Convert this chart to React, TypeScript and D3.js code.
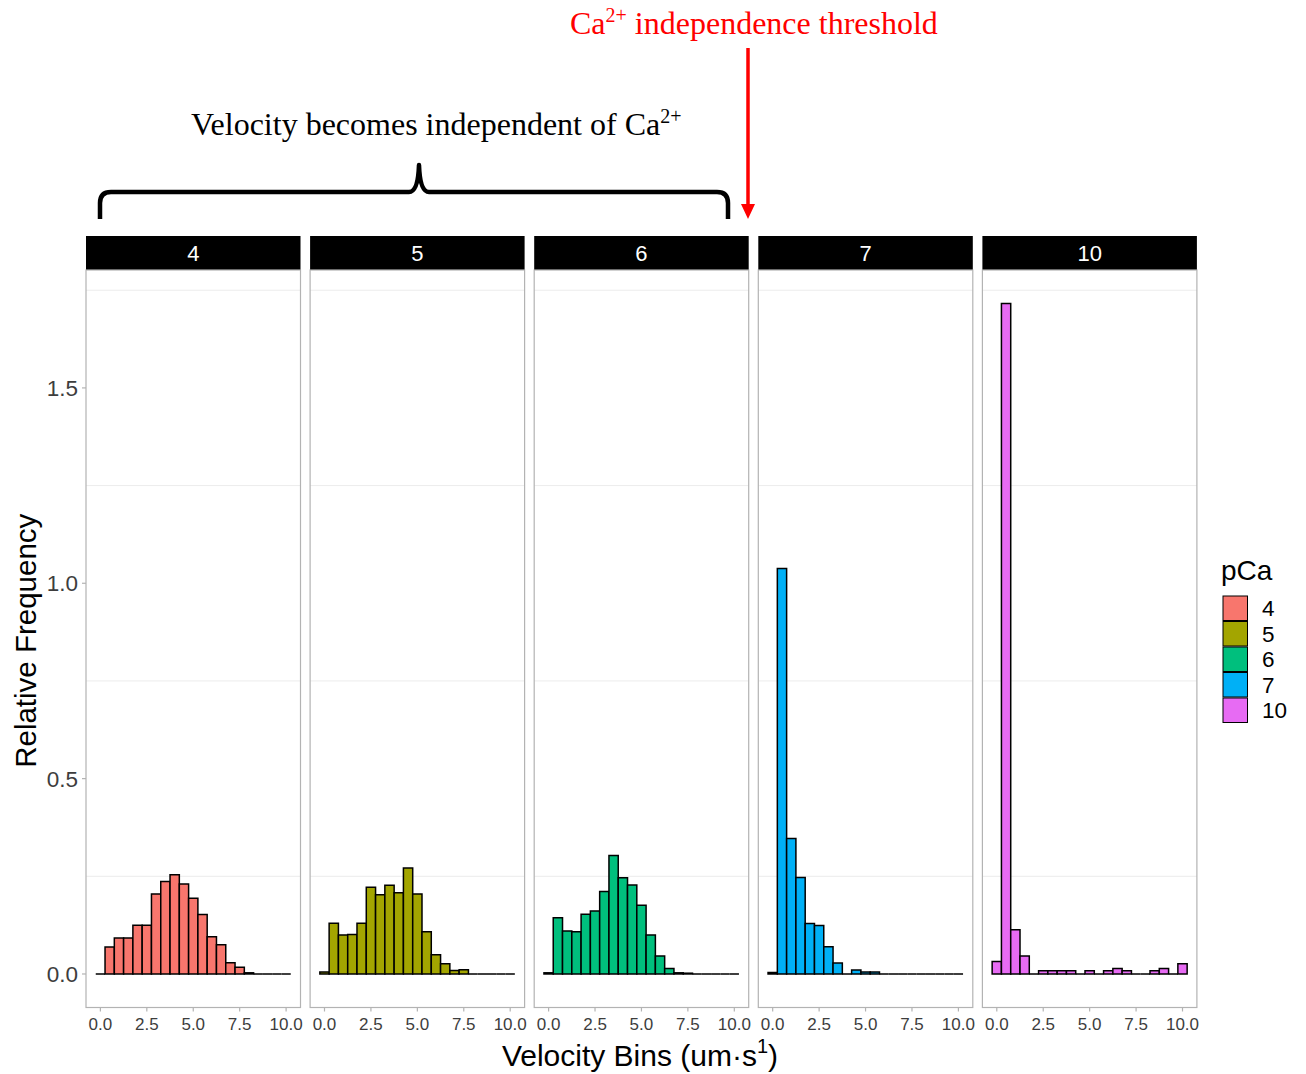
import React from "react";
import * as d3 from "d3";

// Histogram bin centres (binwidth 0.5)
const binCenters = [0, 0.5, 1, 1.5, 2, 2.5, 3, 3.5, 4, 4.5, 5, 5.5, 6, 6.5, 7, 7.5, 8, 8.5, 9, 9.5, 10];
const binWidth = 0.5;

const pCaLevels = ["4", "5", "6", "7", "10"];

const freqPCa4 = [0, 0.069, 0.092, 0.092, 0.125, 0.125, 0.205, 0.237, 0.254, 0.23, 0.194, 0.152, 0.095, 0.075, 0.029, 0.017, 0.003, 0, 0, 0, 0];
const freqPCa5 = [0.005, 0.13, 0.1, 0.101, 0.13, 0.222, 0.203, 0.227, 0.208, 0.271, 0.205, 0.108, 0.049, 0.026, 0.009, 0.011, 0, 0, 0, 0, 0];
const freqPCa6 = [0.003, 0.144, 0.11, 0.108, 0.153, 0.161, 0.211, 0.303, 0.246, 0.228, 0.176, 0.1, 0.046, 0.014, 0.003, 0.002, 0, 0, 0, 0, 0];
const freqPCa7 = [0.004, 1.038, 0.347, 0.247, 0.129, 0.124, 0.07, 0.028, 0, 0.01, 0.005, 0.005, 0, 0, 0, 0, 0, 0, 0, 0, 0];
const freqPCa10 = [0.032, 1.716, 0.113, 0.046, 0, 0.008, 0.008, 0.008, 0.008, 0, 0.008, 0, 0.008, 0.014, 0.008, 0, 0, 0.008, 0.014, 0, 0.026];

const seriesValues = [freqPCa4, freqPCa5, freqPCa6, freqPCa7, freqPCa10];
const fillColors = ["#F8766D", "#A3A500", "#00BF7D", "#00B0F6", "#E76BF3"];

const xTicks = [0, 2.5, 5, 7.5, 10];
const yTicks = [0, 0.5, 1, 1.5];
const yMinorGrid = [0.25, 0.75, 1.25, 1.75];

const W = 1306;
const H = 1074;
const panelLeft = 86;
const panelW = 214.5;
const panelGap = 9.6;
const stripTop = 236;
const panelTop = 270;
const panelBottom = 1007.5;

const sans = "'Liberation Sans', Arial, sans-serif";
const serif = "'Liberation Serif', 'Times New Roman', serif";

export default function App() {
  const allVals = seriesValues.flat();
  const yMax = d3.max(allVals) as number;
  const xLo = binCenters[0] - binWidth / 2;
  const xHi = binCenters[binCenters.length - 1] + binWidth / 2;
  const xPad = (xHi - xLo) * 0.05;

  const x = d3.scaleLinear().domain([xLo - xPad, xHi + xPad]).range([0, panelW]);
  const y = d3
    .scaleLinear()
    .domain([-0.05 * yMax, 1.05 * yMax])
    .range([panelBottom, panelTop]);

  const fmt = d3.format(".1f");

  // bars as closed paths so empty bins still stroke along the baseline
  const barPath = (c: number, v: number) => {
    const p = d3.path();
    const x0 = x(c - binWidth / 2);
    const x1 = x(c + binWidth / 2);
    p.moveTo(x0, y(0));
    p.lineTo(x0, y(v));
    p.lineTo(x1, y(v));
    p.lineTo(x1, y(0));
    p.closePath();
    return p.toString();
  };

  const bracePath =
    "M 100 219 L 100 203 Q 100 192 111 192 L 409 192 Q 418 192 419 165 Q 420 192 429 192 L 717 192 Q 728 192 728 203 L 728 219";

  return (
    <svg
      width={W}
      height={H}
      style={{ position: "absolute", left: 0, top: 0, background: "#fff" }}
      xmlns="http://www.w3.org/2000/svg"
    >
      <rect x={0} y={0} width={W} height={H} fill="#fff" />

      {pCaLevels.map((lvl, i) => {
        const px = panelLeft + i * (panelW + panelGap);
        const vals = seriesValues[i];
        return (
          <g key={lvl} transform={`translate(${px},0)`}>
            {/* strip */}
            <rect x={0} y={stripTop} width={panelW} height={panelTop - stripTop} fill="#000" />
            <text
              x={panelW / 2}
              y={(stripTop + panelTop) / 2 + 8}
              textAnchor="middle"
              fontFamily={sans}
              fontSize={22}
              fill="#fff"
            >
              {lvl}
            </text>
            {/* grid */}
            {yMinorGrid.map((g) => (
              <line key={g} x1={0} x2={panelW} y1={y(g)} y2={y(g)} stroke="#ececec" strokeWidth={1} />
            ))}
            {/* bars */}
            {binCenters.map((c, j) => (
              <path
                key={c}
                d={barPath(c, vals[j])}
                fill={fillColors[i]}
                stroke="#000"
                strokeWidth={1.5}
              />
            ))}
            {/* border */}
            <rect x={0} y={panelTop} width={panelW} height={panelBottom - panelTop} fill="none" stroke="#b3b3b3" strokeWidth={1.2} />
            {/* x ticks */}
            {xTicks.map((t) => (
              <g key={t}>
                <line x1={x(t)} x2={x(t)} y1={panelBottom} y2={panelBottom + 4} stroke="#b3b3b3" strokeWidth={1.2} />
                <text
                  x={x(t)}
                  y={panelBottom + 22}
                  textAnchor="middle"
                  fontFamily={sans}
                  fontSize={17}
                  fill="#3d3d3d"
                >
                  {fmt(t)}
                </text>
              </g>
            ))}
          </g>
        );
      })}

      {/* y axis */}
      {yTicks.map((t) => (
        <g key={t}>
          <line x1={panelLeft - 4} x2={panelLeft} y1={y(t)} y2={y(t)} stroke="#b3b3b3" strokeWidth={1.2} />
          <text
            x={panelLeft - 8}
            y={y(t) + 8}
            textAnchor="end"
            fontFamily={sans}
            fontSize={22.5}
            fill="#3d3d3d"
          >
            {fmt(t)}
          </text>
        </g>
      ))}

      {/* axis titles */}
      <text
        transform={`translate(36,${(panelTop + panelBottom) / 2 + 2}) rotate(-90)`}
        textAnchor="middle"
        fontFamily={sans}
        fontSize={29.5}
        fill="#000"
      >
        Relative Frequency
      </text>
      <text x={640} y={1066} textAnchor="middle" fontFamily={sans} fontSize={30} fill="#000">
        Velocity Bins (um·s
        <tspan fontSize={20} dy={-13}>1</tspan>
        <tspan dy={13}>)</tspan>
      </text>

      {/* legend */}
      <text x={1221} y={580} fontFamily={sans} fontSize={28} fill="#000">
        pCa
      </text>
      {pCaLevels.map((lvl, i) => (
        <g key={lvl}>
          <rect
            x={1223}
            y={596 + i * 25.5}
            width={24.5}
            height={24.5}
            fill={fillColors[i]}
            stroke="#000"
            strokeWidth={1}
          />
          <text x={1262} y={596 + i * 25.5 + 20} fontFamily={sans} fontSize={22.5} fill="#000">
            {lvl}
          </text>
        </g>
      ))}

      {/* annotations */}
      <text x={191} y={135} fontFamily={serif} fontSize={32} fill="#000">
        Velocity becomes independent of Ca
        <tspan fontSize={20} dy={-12}>2+</tspan>
      </text>
      <path d={bracePath} fill="none" stroke="#000" strokeWidth={4.5} strokeLinejoin="round" />

      <text x={570} y={34} fontFamily={serif} fontSize={32} fill="#ff0000">
        Ca
        <tspan fontSize={20} dy={-12}>2+</tspan>
        <tspan dy={12}> independence threshold</tspan>
      </text>
      <line x1={748} x2={748} y1={48} y2={206} stroke="#ff0000" strokeWidth={3.5} />
      <polygon points="741,204 755,204 748,219" fill="#ff0000" />
    </svg>
  );
}
